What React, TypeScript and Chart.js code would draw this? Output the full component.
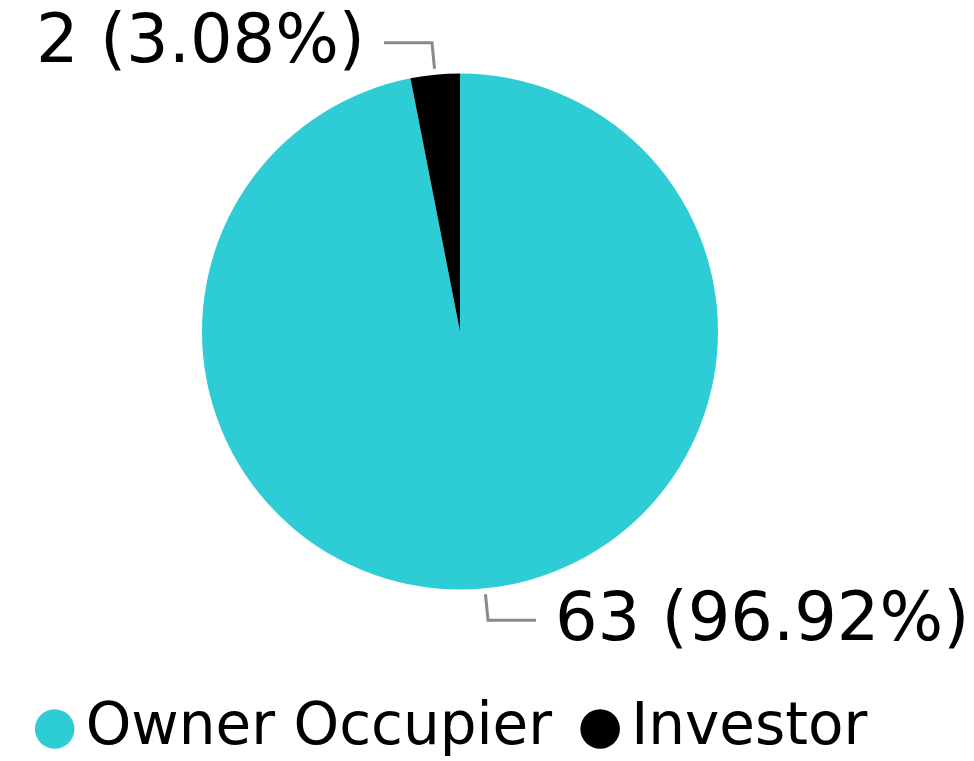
import React, { useEffect, useRef } from 'react';
import { Chart, registerables } from 'chart.js';

Chart.register(...registerables);

const categories: string[] = ['Owner Occupier', 'Investor'];
const counts: number[] = [63, 2];
const sliceColors: string[] = ['#2ECCD4', '#000000'];

const FONT = "'DejaVu Sans', Verdana, sans-serif";

const total = counts.reduce((a, b) => a + b, 0);
const valueLabels: string[] = counts.map((c) => `${c} (${((c / total) * 100).toFixed(2)}%)`);

const leaderPlugin = {
  id: 'leaderLabels',
  afterDatasetsDraw(chart: any) {
    const ctx = chart.ctx as CanvasRenderingContext2D;
    const meta = chart.getDatasetMeta(0);
    ctx.save();
    meta.data.forEach((arc: any, i: number) => {
      const { x, y, startAngle, endAngle, outerRadius } = arc.getProps(
        ['x', 'y', 'startAngle', 'endAngle', 'outerRadius'],
        true
      );
      const mid = (startAngle + endAngle) / 2;
      const cos = Math.cos(mid);
      const sin = Math.sin(mid);
      const r0 = outerRadius + 6;
      const r1 = outerRadius + 32;
      const x0 = x + cos * r0;
      const y0 = y + sin * r0;
      const x1 = x + cos * r1;
      const y1 = y + sin * r1;
      const dir = cos >= 0 ? 1 : -1;
      const x2 = x1 + dir * 48;
      ctx.strokeStyle = '#8a8a8a';
      ctx.lineWidth = 3;
      ctx.lineJoin = 'miter';
      ctx.beginPath();
      ctx.moveTo(x0, y0);
      ctx.lineTo(x1, y1);
      ctx.lineTo(x2, y1);
      ctx.stroke();
      ctx.font = `67px ${FONT}`;
      ctx.fillStyle = '#000000';
      ctx.textBaseline = 'middle';
      ctx.textAlign = dir > 0 ? 'left' : 'right';
      ctx.fillText(valueLabels[i], x2 + dir * 19, y1 + 2);
    });
    ctx.restore();
  },
};

export default function App() {
  const canvasRef = useRef<HTMLCanvasElement | null>(null);

  useEffect(() => {
    if (!canvasRef.current) return;
    const chart = new Chart(canvasRef.current, {
      type: 'pie',
      data: {
        labels: categories,
        datasets: [
          {
            data: counts,
            backgroundColor: sliceColors,
            borderWidth: 0,
            radius: 258,
          } as any,
        ],
      },
      options: {
        responsive: false,
        animation: false,
        layout: { padding: { top: 9, left: 0, right: 54, bottom: -7 } },
        plugins: {
          tooltip: { enabled: false },
          legend: {
            position: 'bottom',
            labels: {
              font: { family: FONT, size: 58 },
              color: '#000000',
              usePointStyle: true,
              pointStyle: 'circle',
              boxWidth: 4,
              boxHeight: 28,
              padding: 46,
            },
          },
        },
      },
      plugins: [leaderPlugin],
    });
    return () => chart.destroy();
  }, []);

  return (
    <div style={{ position: 'absolute', left: 0, top: 0, width: 974, height: 761, overflow: 'hidden', background: '#ffffff' }}>
      <canvas ref={canvasRef} width={974} height={761} style={{ display: 'block' }} />
    </div>
  );
}
